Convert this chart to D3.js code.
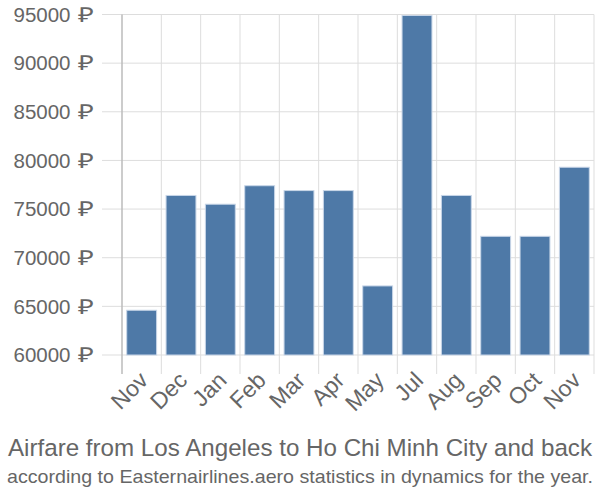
<!DOCTYPE html>
<html>
  <head>
    <meta charset="utf-8">
    <title>Airfare from Los Angeles to Ho Chi Minh City and back</title>
    <script src="https://d3js.org/d3.v7.min.js"></script>
    <style>
      body { margin: 0; background: #fff; }
      text { font-family: "Liberation Sans", Arial, sans-serif; fill: #666; }
    </style>
  </head>
  <body>
    <div id="vis"></div>
    <script>
      const width = 600;
      const height = 500;

      // chart data
      const months = ["Nov", "Dec", "Jan", "Feb", "Mar", "Apr", "May", "Jul", "Aug", "Sep", "Oct", "Nov"];
      const prices = [64600, 76400, 75500, 77400, 76900, 76900, 67100, 94900, 76400, 72200, 72200, 79300];
      const yTicks = [60000, 65000, 70000, 75000, 80000, 85000, 90000, 95000];

      const margin = {top: 14.5, right: 6, bottom: 145, left: 122};

      const svg = d3.select("#vis")
                    .append("svg")
                    .attr("width", width)
                    .attr("height", height);

      // band per month, keyed by index since "Nov" appears twice
      const x = d3.scaleBand()
                  .domain(months.map((m, i) => i))
                  .range([margin.left, width - margin.right])
                  .paddingInner(0.24)
                  .paddingOuter(0.12);

      const y = d3.scaleLinear()
                  .domain([60000, 95000])
                  .range([height - margin.bottom, margin.top]);

      const step = x.step();
      const plotBottom = height - margin.bottom;

      // horizontal grid lines
      svg.append("g")
         .selectAll("line")
         .data(yTicks)
         .enter()
         .append("line")
         .attr("x1", margin.left - 20)
         .attr("x2", width - margin.right)
         .attr("y1", d => y(d))
         .attr("y2", d => y(d))
         .attr("stroke", "#ddd")
         .attr("stroke-width", 1);

      // vertical grid lines at band boundaries
      const xLines = d3.range(months.length + 1).map(i => margin.left + i * step);
      svg.append("g")
         .selectAll("line")
         .data(xLines)
         .enter()
         .append("line")
         .attr("x1", d => d)
         .attr("x2", d => d)
         .attr("y1", margin.top)
         .attr("y2", plotBottom + 19)
         .attr("stroke", "#ddd")
         .attr("stroke-width", 1);

      // left axis line
      svg.append("line")
         .attr("x1", margin.left)
         .attr("x2", margin.left)
         .attr("y1", margin.top)
         .attr("y2", plotBottom + 19)
         .attr("stroke", "#aaa")
         .attr("stroke-width", 1);

      // y tick labels: number, then the rouble sign
      const yLabels = svg.append("g")
                         .selectAll("g")
                         .data(yTicks)
                         .enter()
                         .append("g")
                         .attr("transform", d => "translate(0," + y(d) + ")");

      yLabels.append("text")
             .attr("x", 70.5)
             .attr("dy", "0.35em")
             .attr("text-anchor", "end")
             .style("font-size", "20.5px")
             .text(d => d);

      yLabels.append("text")
             .attr("x", 78)
             .attr("dy", "0.35em")
             .attr("textLength", 16)
             .attr("lengthAdjust", "spacingAndGlyphs")
             .style("font-size", "20.5px")
             .text("₽");

      // bars
      svg.append("g")
         .selectAll("rect")
         .data(prices)
         .enter()
         .append("rect")
         .attr("x", (d, i) => x(i))
         .attr("width", x.bandwidth())
         .attr("y", d => y(d))
         .attr("height", d => plotBottom - y(d))
         .attr("fill", "#4e79a7")
         .attr("stroke", "#c8d6e8")
         .attr("stroke-width", 1);

      // x tick labels, rotated
      svg.append("g")
         .selectAll("text")
         .data(months)
         .enter()
         .append("text")
         .attr("transform", (d, i) => "translate(" + (x(i) + x.bandwidth() / 2 + 2) + "," + (plotBottom + 21) + ") rotate(-45)")
         .attr("text-anchor", "end")
         .attr("dy", "0.35em")
         .style("font-size", "23px")
         .text(d => d);

      // titles
      svg.append("text")
         .attr("x", width / 2)
         .attr("y", 456)
         .attr("text-anchor", "middle")
         .attr("textLength", 584)
         .attr("lengthAdjust", "spacingAndGlyphs")
         .style("font-size", "24.5px")
         .text("Airfare from Los Angeles to Ho Chi Minh City and back");

      svg.append("text")
         .attr("x", width / 2)
         .attr("y", 483)
         .attr("text-anchor", "middle")
         .attr("textLength", 586)
         .attr("lengthAdjust", "spacingAndGlyphs")
         .style("font-size", "19px")
         .text("according to Easternairlines.aero statistics in dynamics for the year.");
    </script>
  </body>
</html>
